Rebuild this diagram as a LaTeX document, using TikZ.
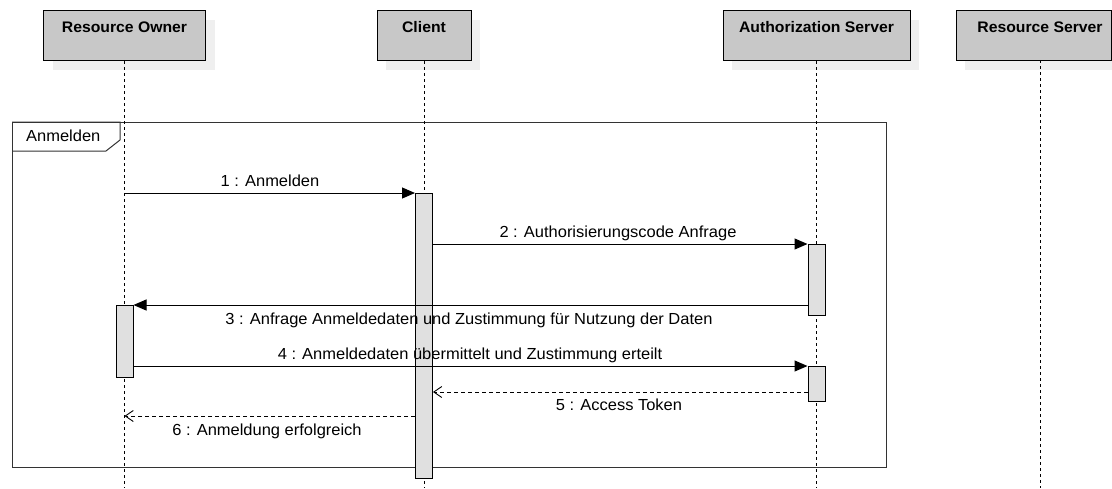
\documentclass[tikz,border=0pt]{standalone}
\usepackage{fontspec}
\setmainfont{Liberation Sans}[FakeStretch=1.03]
\usetikzlibrary{arrows.meta,shadows}
\definecolor{headgray}{HTML}{C8C8C8}
\definecolor{shadowgray}{HTML}{EFEFEF}
\definecolor{barfill}{HTML}{E0E0E0}
\definecolor{framec}{HTML}{333333}
\begin{document}
\begin{tikzpicture}[x=1pt,y=-1pt,
  headbox/.style={draw=black, line width=1pt, fill=headgray, minimum height=50pt,
    inner sep=0pt, anchor=north,
    drop shadow={shadow xshift=9pt, shadow yshift=-9pt, fill=shadowgray, opacity=1}},
  headtext/.style={anchor=base, inner sep=0pt, font=\fontsize{15.3}{18}\selectfont\bfseries},
  lifeline/.style={line width=0.9pt, dash pattern=on 3pt off 3pt},
  bar/.style={draw=black, line width=1pt, fill=barfill, minimum width=17pt, inner sep=0pt, anchor=north},
  msg/.style={line width=1pt, -{Triangle[length=13pt,width=11pt]}},
  reply/.style={line width=0.9pt, dash pattern=on 4pt off 3pt, -{Straight Barb[length=8pt,width=11pt,line width=0.9pt]}},
  lbl/.style={anchor=base, inner sep=0pt, font=\fontsize{16}{19}\selectfont},
  framebox/.style={draw=framec, line width=1pt}
]
\useasboundingbox (0,0) rectangle (1112,488);

% participants
\node[headbox, minimum width=162pt] (ro) at (124.5,10) {};
\node[headbox, minimum width=94pt]  (cl) at (424,10) {};
\node[headbox, minimum width=187pt] (as) at (816.5,10) {};
\node[headbox, minimum width=155pt] (rs) at (1033.5,10) {};
\coordinate (rsl) at (1040,60);

\node[headtext] (rot) at (ro.north |- 0,32.5) {Resource Owner};
\node[headtext] (clt) at (cl.north |- 0,32.5) {Client};
\node[headtext] (ast) at (as.north |- 0,32.5) {Authorization Server};
\node[headtext] (rst) at (rsl |- 0,32.5) {Resource Server};

% interaction frame
\draw[framebox] (12,122) rectangle (886,467);
\draw[framebox] (12,122) -- (120,122) -- (120,140) -- (106,151) -- (12,151);
\node[anchor=base west, inner sep=0pt, font=\fontsize{16}{19}\selectfont] (fr) at (26,141) {Anmelden};

% lifelines
\draw[lifeline] (ro.south) -- (ro.south |- 0,488);
\draw[lifeline] (cl.south) -- (cl.south |- 0,488);
\draw[lifeline] (as.south) -- (as.south |- 0,488);
\draw[lifeline] (rsl) -- (rsl |- 0,488);

% activations
\node[bar, minimum height=285pt] (cbar)  at (424,193) {};
\node[bar, minimum height=71pt]  (abar1) at (816.5,244) {};
\node[bar, minimum height=72pt]  (robar) at (124.5,305) {};
\node[bar, minimum height=35pt]  (abar2) at (816.5,366) {};

% messages
\draw[msg] (ro.south |- cbar.north) -- (cbar.north west);
\node[lbl] (l1) at (270,186) {1 : Anmelden};

\draw[msg] (cbar.east |- abar1.north) -- (abar1.north west);
\node[lbl] (l2) at (618,237) {2 : Authorisierungscode Anfrage};

\draw[msg] (abar1.west |- robar.north) -- (robar.north east);
\node[lbl] (l3) at (469,324) {3 : Anfrage Anmeldedaten und Zustimmung für Nutzung der Daten};

\draw[msg] (robar.east |- abar2.north) -- (abar2.north west);
\node[lbl] (l4) at (470,359) {4 : Anmeldedaten übermittelt und Zustimmung erteilt};

\draw[reply] (abar2.west |- 0,392) -- (cbar.east |- 0,392);
\node[lbl] (l5) at (619,410) {5 : Access Token};

\draw[reply] (cbar.west |- 0,416) -- (ro.south |- 0,416);
\node[lbl] (l6) at (267,435) {6 : Anmeldung erfolgreich};
\end{tikzpicture}
\end{document}
